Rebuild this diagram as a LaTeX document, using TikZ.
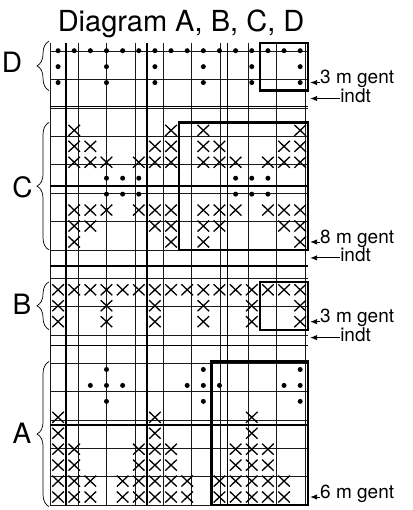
\documentclass[tikz,border=0pt]{standalone}
\usepackage{fontspec}
\setmainfont{TeX Gyre Heros}
\usetikzlibrary{arrows.meta,decorations.pathreplacing}

\tikzset{
  gridline/.style={line width=0.7bp, black!90},
  majorline/.style={line width=1.6bp},
  repbox/.style={line width=2.2bp},
  brc/.style={decorate, decoration={brace, amplitude=12bp}, line width=0.7bp},
  rowlabel/.style={font=\fontsize{28bp}{30bp}\selectfont, inner sep=0pt},
  sidenote/.style={font=\fontsize{19bp}{21bp}\selectfont, anchor=base west, inner sep=0pt},
  ptr/.style={-{Latex[length=7bp,width=5.5bp]}, line width=0.9bp},
  xstitch/.pic={\draw[line width=1.3bp] (-5.8bp,-5.5bp) -- (5.8bp,5.5bp) (-5.8bp,5.5bp) -- (5.8bp,-5.5bp);},
  dotstitch/.pic={\fill (0,0) circle (2.5bp);}
}

\begin{document}
\begin{tikzpicture}[x=16.14bp, y=15.94bp]
    \useasboundingbox (-3.098,-0.314) rectangle (22.43,31.68);

    % Title
    \node[font=\fontsize{29bp}{30bp}\selectfont, anchor=base, inner sep=0pt] (title) at (8.12, 29.69) {Diagram A, B, C, D};

    % Chart grid, heavier line every 5 stitches and 5 rows
    \draw[gridline] (0,0) grid (16,29);
    \foreach \x in {1,6,11}
        \draw[majorline] (\x,0) -- (\x,29);
    \foreach \y in {5,10,15,20,25}
        \draw[majorline] (0,\y) -- (16,\y);

    % Dots (row / columns)
    \foreach \r/\cols in {28/{1,2,3,4,5,6,7,8,9,10,11,12,13,14,15,16},
                          27/{1,4,7,10,13,16}, 26/{1,4,7,10,13,16},
                          20/{4,5,6,12,13,14}, 19/{4,5,6,12,13,14},
                          8/{4,10,16}, 7/{3,4,5,9,10,11,15,16}, 6/{4,10,16}}
        \foreach \c in \cols
            \pic at (\c-0.5, \r+0.5) {dotstitch};

    % Crosses (row / columns)
    \foreach \r/\cols in {23/{2,8,10,16}, 22/{2,3,7,8,10,11,15,16},
                          21/{2,3,4,6,7,8,10,11,12,14,15,16},
                          18/{2,3,4,6,7,8,10,11,12,14,15,16},
                          17/{2,3,7,8,10,11,15,16}, 16/{2,8,10,16},
                          13/{1,2,3,4,5,6,7,8,9,10,11,12,13,14,15,16},
                          12/{1,4,7,10,13,16}, 11/{1,4,7,10,13,16},
                          5/{1,7,13}, 4/{1,7,13},
                          3/{1,2,6,7,8,12,13,14}, 2/{1,2,6,7,8,12,13,14},
                          1/{1,2,3,5,6,7,8,9,11,12,13,14,15},
                          0/{1,2,3,5,6,7,8,9,11,12,13,14,15}}
        \foreach \c in \cols
            \pic at (\c-0.5, \r+0.5) {xstitch};

    % Pattern repeats
    \draw[repbox] (13,26) rectangle (16,29);
    \draw[repbox] (8,16) rectangle (16,24);
    \draw[repbox] (13,11) rectangle (16,14);
    \draw[repbox] (10,0) rectangle (16,9);

    % Braces and labels on the left
    \draw[brc] (-0.06,26) -- (-0.06,29.1);
    \draw[brc] (-0.06,16) -- (-0.06,24);
    \draw[brc] (-0.06,11) -- (-0.06,14);
    \draw[brc] (-0.06,-0.1) -- (-0.06,9);
    \node[rowlabel] (labD) at (-2.35, 27.75) {D};
    \node[rowlabel] (labC) at (-1.70, 19.9) {C};
    \node[rowlabel] (labB) at (-1.74, 12.6) {B};
    \node[rowlabel] (labA) at (-1.74, 4.5) {A};

    % Notes on the right
    \coordinate (gentD) at (16.12, 26.5);
    \coordinate (indtD) at (16.12, 25.5);
    \coordinate (gentC) at (16.12, 16.5);
    \coordinate (indtC) at (16.12, 15.5);
    \coordinate (gentB) at (16.12, 11.5);
    \coordinate (indtB) at (16.12, 10.5);
    \coordinate (gentA) at (16.12, 0.5);

    \node[sidenote] (noteD) at (16.73, 26.42) {3 m gent};
    \node[sidenote] (noteDi) at (17.97, 25.27) {indt};
    \node[sidenote] (noteC) at (16.73, 16.42) {8 m gent};
    \node[sidenote] (noteCi) at (17.97, 15.27) {indt};
    \node[sidenote] (noteB) at (16.73, 11.42) {3 m gent};
    \node[sidenote] (noteBi) at (17.97, 10.27) {indt};
    \node[sidenote] (noteA) at (16.73, 0.42) {6 m gent};

    \draw[ptr] (noteD.west |- gentD) -- (gentD);
    \draw[ptr] (noteDi.west |- indtD) -- (indtD);
    \draw[ptr] (noteC.west |- gentC) -- (gentC);
    \draw[ptr] (noteCi.west |- indtC) -- (indtC);
    \draw[ptr] (noteB.west |- gentB) -- (gentB);
    \draw[ptr] (noteBi.west |- indtB) -- (indtB);
    \draw[ptr] (noteA.west |- gentA) -- (gentA);
\end{tikzpicture}
\end{document}
